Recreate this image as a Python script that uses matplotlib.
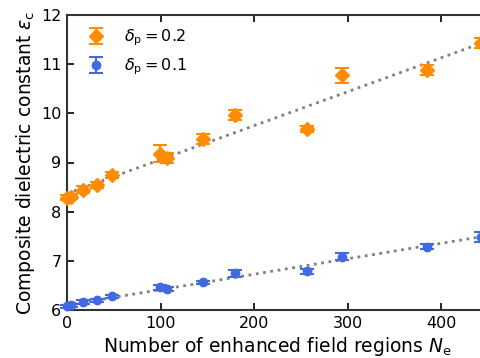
import matplotlib
matplotlib.use("Agg")
import matplotlib.pyplot as plt
import numpy as np

# Data
n_e = [0, 4, 17, 32, 48, 99, 107, 145, 180, 256, 294, 385, 443]
eps_02 = [8.28, 8.30, 8.45, 8.54, 8.75, 9.18, 9.09, 9.48, 9.97, 9.69, 10.77, 10.88, 11.43]
err_02 = [0.05, 0.05, 0.08, 0.06, 0.06, 0.17, 0.10, 0.10, 0.10, 0.06, 0.15, 0.10, 0.10]
eps_01 = [6.08, 6.10, 6.17, 6.20, 6.28, 6.46, 6.42, 6.56, 6.75, 6.79, 7.08, 7.29, 7.48]
err_01 = [0.03, 0.03, 0.04, 0.03, 0.03, 0.05, 0.04, 0.04, 0.07, 0.05, 0.07, 0.05, 0.10]

fit_02 = (0.00690, 8.37)   # slope, intercept
fit_01 = (0.00314, 6.10)

xticks = [0, 100, 200, 300, 400]
yticks = [6, 7, 8, 9, 10, 11, 12]

fig = plt.figure(figsize=(4.81, 3.58), dpi=100)
ax = fig.add_axes([67/481, 48/358, 421/481, 295/358])

xl = np.array([0, 450])
ax.plot(xl, fit_02[0]*xl + fit_02[1], ls=':', color='gray', lw=2, zorder=1)
ax.plot(xl, fit_01[0]*xl + fit_01[1], ls=':', color='gray', lw=2, zorder=1)

c2 = ax.errorbar(n_e, eps_02, yerr=err_02, fmt='D', color='darkorange', ms=7,
                 capsize=5, elinewidth=1.5, capthick=1.5, label=r'$\delta_\mathrm{p}=0.2$', zorder=3)
c1 = ax.errorbar(n_e, eps_01, yerr=err_01, fmt='o', color='royalblue', ms=6,
                 capsize=5, elinewidth=1.5, capthick=1.5, label=r'$\delta_\mathrm{p}=0.1$', zorder=3)
for cont in (c1, c2):
    for art in cont.get_children():
        art.set_clip_on(False)

ax.set_xlim(0, 450)
ax.set_ylim(6, 12)
ax.set_xticks(xticks)
ax.set_yticks(yticks)
ax.tick_params(direction='in', top=True, right=True, labelsize=11.5, length=5, width=1.2, pad=4)
for s in ax.spines.values():
    s.set_linewidth(1.5)
    s.set_color('#333333')
ax.set_xlabel(r'Number of enhanced field regions $N_\mathrm{e}$', fontsize=13.5, labelpad=3)
ax.set_ylabel(r'Composite dielectric constant $\varepsilon_\mathrm{c}$', fontsize=13.5, labelpad=3)
ax.legend(loc='upper left', frameon=False, fontsize=11.5, handletextpad=0.8,
          labelspacing=0.5, borderaxespad=0.4)

fig.savefig('out.png', dpi=100)
